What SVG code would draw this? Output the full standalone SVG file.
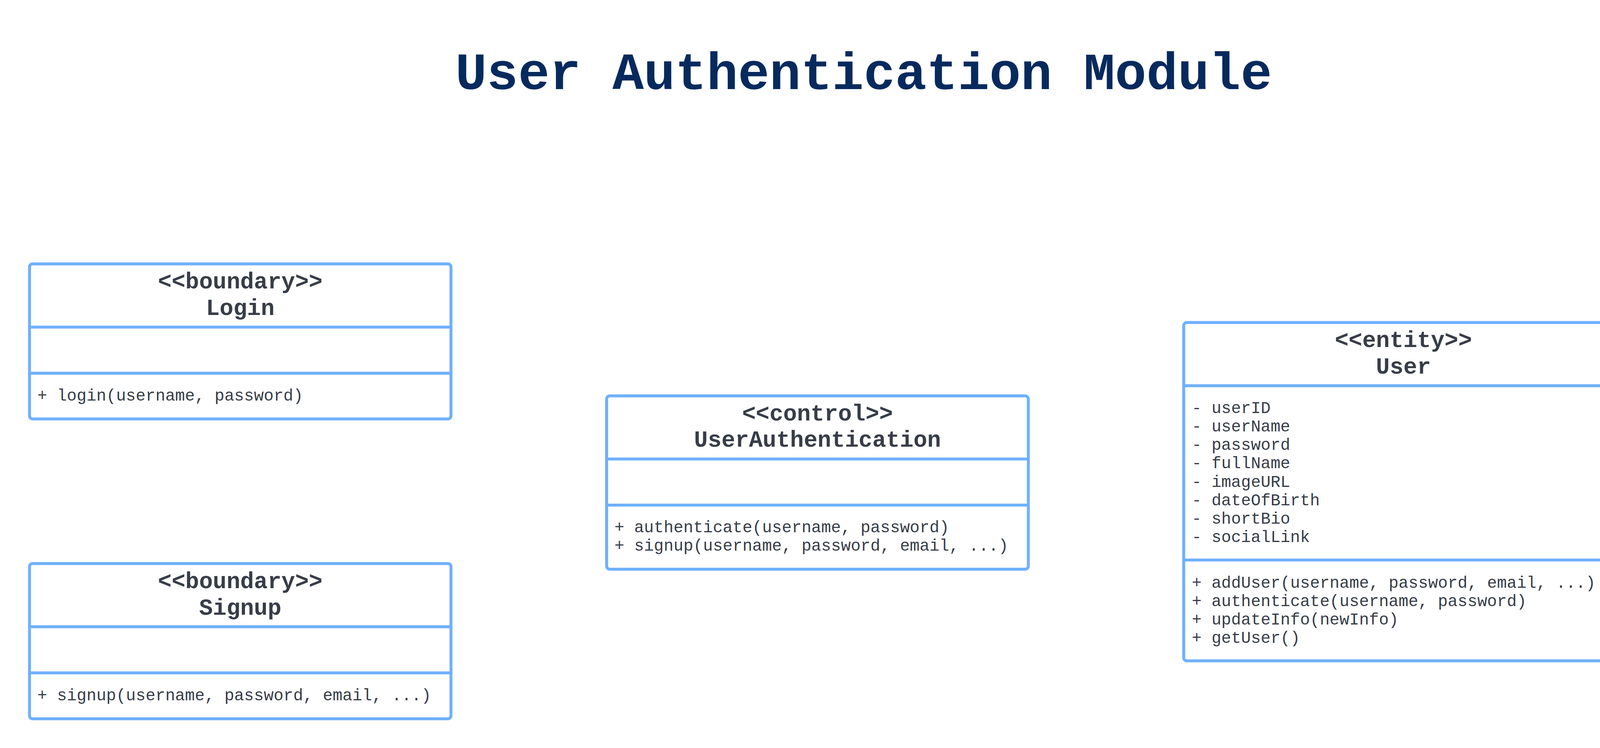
<svg xmlns="http://www.w3.org/2000/svg" width="4230" height="1914" viewBox="0 0 4230 1914">
  <style>
    .box { fill: #ffffff; stroke: #6fb0fd; stroke-width: 7.5; }
    .div { stroke: #6fb0fd; stroke-width: 7.5; }
    .hdr { font-family: "Liberation Mono", "DejaVu Sans Mono", monospace; font-weight: bold; font-size: 58.5px; fill: #373d48; text-anchor: middle; }
    .mem { font-family: "Liberation Mono", "DejaVu Sans Mono", monospace; font-size: 42px; fill: #373d48; white-space: pre; }
    .title { font-family: "Liberation Mono", "DejaVu Sans Mono", monospace; font-weight: bold; font-size: 134px; fill: #072a5e; text-anchor: middle; }
  </style>
  <rect width="4230" height="1914" fill="#ffffff"/>
  <text class="title" x="2211" y="228">User Authentication Module</text>

  <g id="login">
    <rect class="box" x="75.5" y="675.3" width="1079" height="396.7" rx="8"/>
    <line class="div" x1="75.5" y1="837" x2="1154.5" y2="837"/>
    <line class="div" x1="75.5" y1="955" x2="1154.5" y2="955"/>
    <text class="hdr" x="615" y="738.3">&lt;&lt;boundary&gt;&gt;</text>
    <text class="hdr" x="615" y="806">Login</text>
    <text class="mem" x="95.5" y="1025">+ login(username, password)</text>
  </g>

  <g id="signup">
    <rect class="box" x="75.5" y="1442" width="1079" height="397.3" rx="8"/>
    <line class="div" x1="75.5" y1="1603.8" x2="1154.5" y2="1603.8"/>
    <line class="div" x1="75.5" y1="1721.7" x2="1154.5" y2="1721.7"/>
    <text class="hdr" x="615" y="1505">&lt;&lt;boundary&gt;&gt;</text>
    <text class="hdr" x="615" y="1572.7">Signup</text>
    <text class="mem" x="95.5" y="1791.7">+ signup(username, password, email, ...)</text>
  </g>

  <g id="userauthentication">
    <rect class="box" x="1553" y="1013" width="1079.5" height="443.5" rx="8"/>
    <line class="div" x1="1553" y1="1174.4" x2="2632.5" y2="1174.4"/>
    <line class="div" x1="1553" y1="1292.4" x2="2632.5" y2="1292.4"/>
    <text class="hdr" x="2092.8" y="1076">&lt;&lt;control&gt;&gt;</text>
    <text class="hdr" x="2092.8" y="1143.3">UserAuthentication</text>
    <text class="mem" x="1573" y="1361.7">+ authenticate(username, password)</text>
    <text class="mem" x="1573" y="1409">+ signup(username, password, email, ...)</text>
  </g>

  <g id="user">
    <rect class="box" x="3030.3" y="825.3" width="1125" height="865.7" rx="8"/>
    <line class="div" x1="3030.3" y1="987" x2="4155.3" y2="987"/>
    <line class="div" x1="3030.3" y1="1433" x2="4155.3" y2="1433"/>
    <text class="hdr" x="3592.8" y="888.3">&lt;&lt;entity&gt;&gt;</text>
    <text class="hdr" x="3592.8" y="956">User</text>
    <text class="mem" x="3051" y="1056.7">- userID</text>
    <text class="mem" x="3051" y="1103.95">- userName</text>
    <text class="mem" x="3051" y="1151.2">- password</text>
    <text class="mem" x="3051" y="1198.45">- fullName</text>
    <text class="mem" x="3051" y="1245.7">- imageURL</text>
    <text class="mem" x="3051" y="1292.95">- dateOfBirth</text>
    <text class="mem" x="3051" y="1340.2">- shortBio</text>
    <text class="mem" x="3051" y="1387.45">- socialLink</text>
    <text class="mem" x="3051" y="1503.5">+ addUser(username, password, email, ...)</text>
    <text class="mem" x="3051" y="1550.75">+ authenticate(username, password)</text>
    <text class="mem" x="3051" y="1598">+ updateInfo(newInfo)</text>
    <text class="mem" x="3051" y="1645.25">+ getUser()</text>
  </g>

  <g id="connectors"></g>
</svg>
